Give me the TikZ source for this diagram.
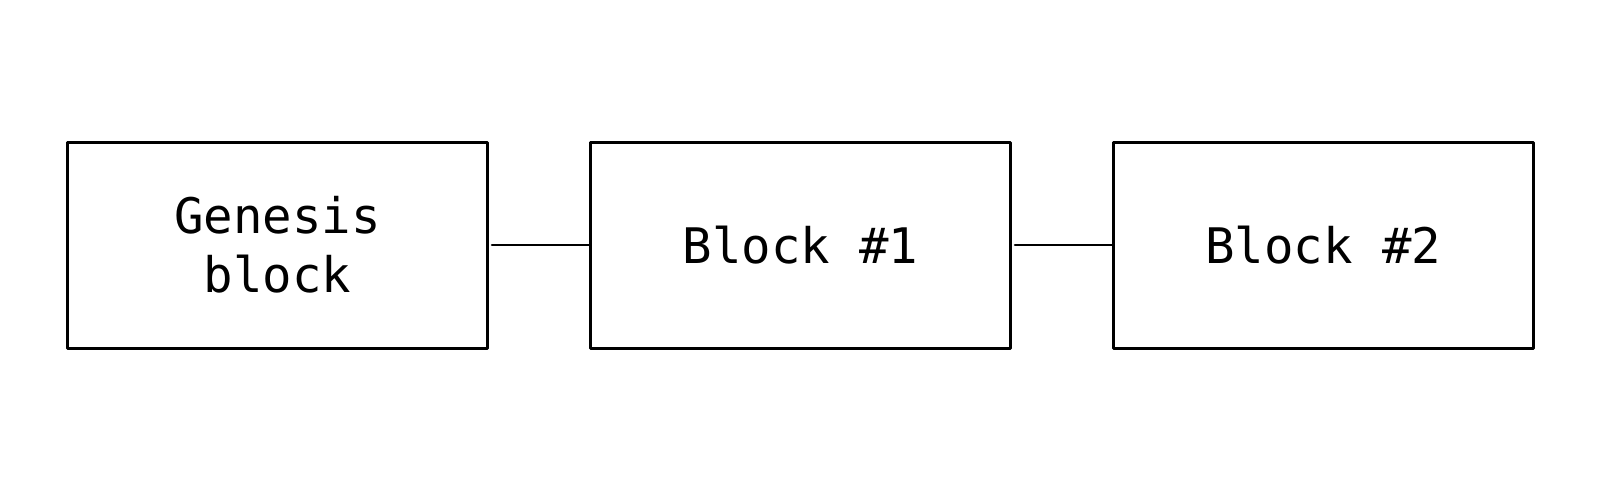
\documentclass[tikz,border=0pt]{standalone}
\usepackage{fontspec}
\newfontfamily\blockfont{DejaVu Sans Mono}
\begin{document}
\begin{tikzpicture}[x=1pt,y=-1pt,
  blockbox/.style={draw=black, line width=3pt, line join=round, minimum width=420pt, minimum height=206pt, inner sep=0pt, align=center, font=\blockfont\fontsize{49}{59}\selectfont},
  link/.style={draw=black, line width=2.6pt, line cap=round}]
\useasboundingbox (0,0) rectangle (1600,492);
\node[blockbox] (g) at (277.5,245) {Genesis\\block};
\node[blockbox] (b1) at (800.5,245) {Block \#1};
\node[blockbox] (b2) at (1323,245) {Block \#2};
\draw[link] ([xshift=3pt]g.east) -- (b1.west);
\draw[link] ([xshift=3pt]b1.east) -- (b2.west);
\end{tikzpicture}
\end{document}
